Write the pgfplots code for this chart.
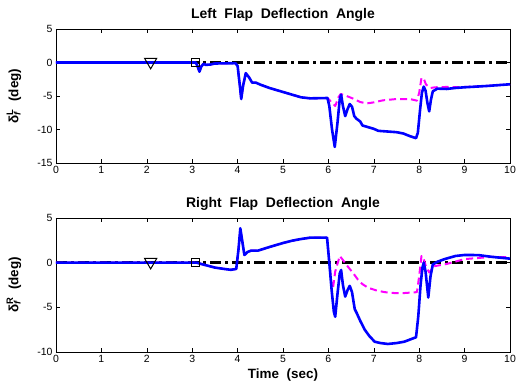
\documentclass[border=0pt]{standalone}
\usepackage{fontspec}
\setmainfont{Liberation Sans}
\usepackage{pgfplots}
\pgfplotsset{compat=1.18}
\definecolor{mblue}{RGB}{0,0,255}
\definecolor{mmag}{RGB}{255,0,255}
\pgfplotsset{
  flapaxis/.style={
    scale only axis, width=454bp, height=134bp,
    xmin=0, xmax=10, xtick={0,1,...,10},
    tick pos=both, tick align=inside, major tick length=4bp,
    axis line style={line width=0.8bp},
    every tick/.style={black, line width=0.6bp},
    /pgf/number format/assume math mode=true,
    tick label style={font=\fontsize{10.5}{12}\selectfont},
    every axis title/.style={font=\fontsize{14}{16}\selectfont\bfseries, at={(axis description cs:0.5,1)}, anchor=center, yshift=14bp},
    every axis y label/.style={font=\fontsize{13.5}{15}\selectfont\bfseries, at={(axis description cs:0,0.5)}, anchor=center, xshift=-42bp, rotate=90},
    every axis x label/.style={font=\fontsize{13.5}{15}\selectfont\bfseries, at={(axis description cs:0.5,0)}, anchor=center, yshift=-23bp},
    clip=true,
  },
  refline/.style={black, line width=2.4bp, dash pattern=on 11bp off 4bp on 3bp off 4bp},
  magline/.style={mmag, line width=2bp, dash pattern=on 7bp off 4bp, line join=round},
  blueline/.style={mblue, line width=2.6bp, line join=round},
  tri/.style={only marks, mark=triangle, mark options={rotate=180, black, fill=none, line width=1bp}, mark size=7bp},
  sq/.style={only marks, mark=square, mark options={black, fill=none, line width=1bp}, mark size=4bp},
}
\begin{document}
\begin{tikzpicture}
\path[use as bounding box] (-56bp,29bp) rectangle (461bp,-355bp);
\begin{axis}[flapaxis, at={(0,0)}, anchor=north west,
  ymin=-15, ymax=5, ytick={-15,-10,-5,0,5},
  title={Left\ \ Flap\ \ Deflection\ \ Angle},
  ylabel={δ\rlap{\textsubscript{\itshape f}}\textsuperscript{L}\ \ (deg)}]
\addplot[refline] coordinates {(0,0) (10,0)};
\addplot[magline] coordinates {
(0,0) (3.08,0) (3.12,-0.6) (3.16,-1.37) (3.2,-0.6) (3.25,-0.2) (3.3,-0.35) (3.4,-0.3) (3.5,-0.15) (3.95,-0.1)
(4.0,-0.5) (4.05,-3.5) (4.08,-5.45) (4.12,-3.5) (4.18,-1.6) (4.25,-2.2) (4.32,-3.0) (4.4,-3.0) (4.5,-3.3)
(4.7,-3.8) (5.0,-4.4) (5.2,-4.8) (5.4,-5.2) (5.6,-5.35) (5.98,-5.3)
(6.05,-5.8) (6.15,-6.5) (6.22,-5.2) (6.27,-4.7) (6.4,-5.0) (6.55,-5.4) (6.7,-5.9) (6.85,-6.1) (7.0,-5.95)
(7.2,-5.65) (7.5,-5.45) (7.8,-5.45) (7.95,-5.7) (8.0,-4.5) (8.05,-2.3) (8.1,-2.4) (8.15,-3.3) (8.25,-3.8)
(8.35,-3.7) (8.6,-3.65) (8.9,-3.7) (9.0,-3.65) (9.5,-3.5) (10,-3.25)};
\addplot[blueline] coordinates {
(0,0) (3.08,0) (3.12,-0.6) (3.16,-1.37) (3.2,-0.6) (3.25,-0.2) (3.3,-0.35) (3.4,-0.3) (3.5,-0.15) (3.95,-0.1)
(4.0,-0.5) (4.05,-3.5) (4.08,-5.45) (4.12,-3.5) (4.18,-1.6) (4.25,-2.2) (4.32,-3.0) (4.4,-3.0) (4.5,-3.3)
(4.7,-3.8) (5.0,-4.4) (5.2,-4.8) (5.4,-5.2) (5.6,-5.35) (5.98,-5.3)
(6.02,-6.5) (6.08,-10) (6.14,-12.6) (6.2,-9) (6.25,-5.5) (6.28,-4.8) (6.32,-6.5) (6.37,-8.0) (6.42,-7)
(6.47,-6.2) (6.52,-6.6) (6.57,-8.0) (6.62,-8.4) (6.7,-8.8) (6.75,-9.4) (6.85,-9.6) (7.0,-9.9) (7.1,-10.2)
(7.3,-10.3) (7.5,-10.4) (7.65,-10.6) (7.8,-11.0) (7.93,-11.3) (7.97,-10.5) (8.02,-7) (8.06,-4.5) (8.1,-3.6)
(8.14,-4.2) (8.18,-6) (8.22,-7.3) (8.26,-5.5) (8.3,-4.3) (8.4,-3.9) (8.6,-3.95) (8.8,-3.8) (9.0,-3.7)
(9.5,-3.5) (10,-3.25)};
\addplot[tri] coordinates {(2.085,0.1)};
\addplot[sq] coordinates {(3.08,0)};
\end{axis}
\begin{axis}[flapaxis, at={(0,-189bp)}, anchor=north west,
  ymin=-10, ymax=5, ytick={-10,-5,0,5},
  title={Right\ \ Flap\ \ Deflection\ \ Angle},
  xlabel={Time\ \ (sec)},
  ylabel={δ\rlap{\textsubscript{\itshape f}}\textsuperscript{R}\ \ (deg)}]
\addplot[refline] coordinates {(0,0) (10,0)};
\addplot[magline] coordinates {
(0,0) (3.1,0) (3.2,-0.15) (3.35,-0.35) (3.5,-0.55) (3.7,-0.7) (3.85,-0.8) (3.97,-0.7) (4.02,1.5) (4.06,3.7)
(4.1,2.5) (4.15,0.86) (4.22,1.2) (4.3,1.35) (4.45,1.35) (4.7,1.75) (5.0,2.2) (5.2,2.46) (5.4,2.65) (5.6,2.8)
(5.97,2.8) (6.02,0) (6.07,-2.5) (6.1,-2.9) (6.15,-1.0) (6.25,0.75) (6.32,0.3) (6.43,-0.45) (6.55,-1.2)
(6.65,-1.9) (6.75,-2.4) (6.87,-2.8) (7.05,-3.1) (7.24,-3.3) (7.45,-3.4) (7.67,-3.4) (7.95,-3.3) (8.0,-1.5)
(8.05,0.75) (8.1,0.4) (8.15,-0.45) (8.22,-1.1) (8.33,-0.4) (8.6,-0.15) (9.0,0.4) (9.6,0.65) (10,0.6)};
\addplot[blueline] coordinates {
(0,0) (3.1,0) (3.2,-0.15) (3.35,-0.35) (3.5,-0.55) (3.7,-0.7) (3.85,-0.8) (3.97,-0.7) (4.02,1.5) (4.06,3.85)
(4.1,2.5) (4.15,0.86) (4.22,1.2) (4.3,1.35) (4.45,1.35) (4.7,1.75) (5.0,2.2) (5.2,2.46) (5.4,2.65) (5.6,2.8)
(5.97,2.8) (6.02,0) (6.07,-3) (6.12,-5.5) (6.15,-6.05) (6.2,-3.5) (6.25,-1.2) (6.28,-0.82) (6.32,-2.5)
(6.37,-3.8) (6.42,-3.1) (6.47,-2.6) (6.52,-3.3) (6.58,-5.2) (6.62,-5.6) (6.7,-6.5) (6.8,-7.5) (6.9,-8.2)
(7.02,-8.85) (7.15,-9.0) (7.31,-9.1) (7.5,-9.0) (7.67,-8.85) (7.8,-8.6) (7.93,-8.35) (7.98,-6) (8.03,-2.5)
(8.07,-0.6) (8.1,0.0) (8.14,-1.0) (8.2,-3.9) (8.25,-1.5) (8.3,-0.2) (8.4,0.1) (8.56,0.4) (8.8,0.75)
(9.0,0.86) (9.3,0.85) (9.6,0.65) (10,0.45)};
\addplot[tri] coordinates {(2.085,0.08)};
\addplot[sq] coordinates {(3.08,0)};
\end{axis}
\end{tikzpicture}
\end{document}
